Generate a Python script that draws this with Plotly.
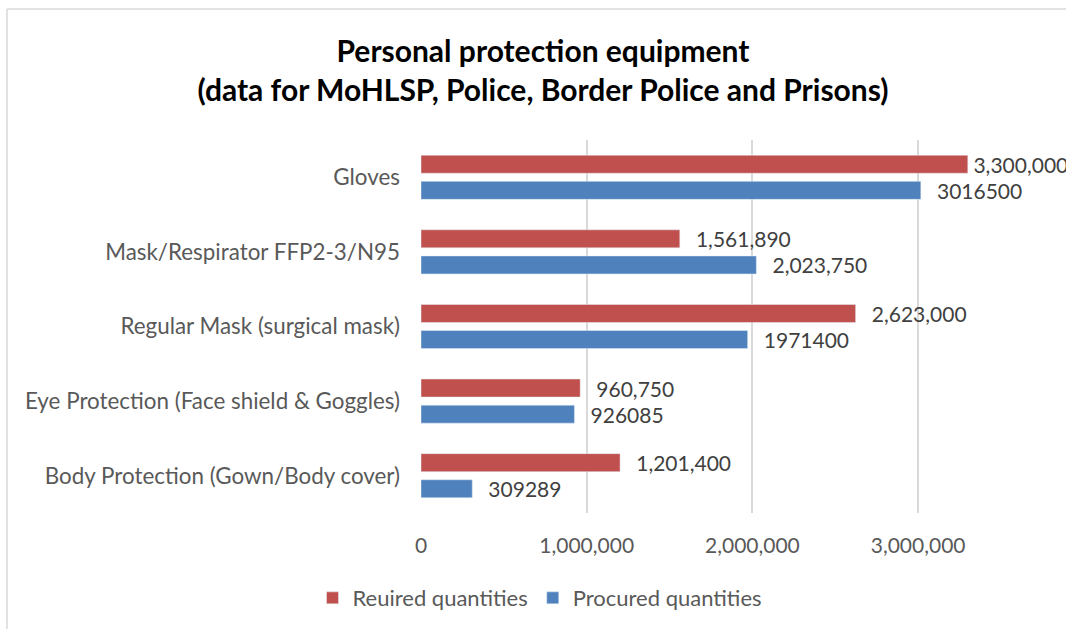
import plotly.graph_objects as go

# categories top to bottom
categorias = [
    'Gloves',
    'Mask/Respirator FFP2-3/N95',
    'Regular Mask (surgical mask)',
    'Eye Protection (Face shield & Goggles)',
    'Body Protection (Gown/Body cover)',
]
requeridas = [3300000, 1561890, 2623000, 960750, 1201400]
adquiridas = [3016500, 2023750, 1971400, 926085, 309289]
# labels as they appear in the original (mixed formatting)
rotulos_req = ['3,300,000', '1,561,890', '2,623,000', '960,750', '1,201,400']
rotulos_adq = ['3016500', '2,023,750', '1971400', '926085', '309289']

VERMELHO = '#C0504D'
AZUL = '#4F81BD'
FONTE = 'Lato, Open Sans, sans-serif'
ESPACO = '\u2002\u2009'  # afasta o rótulo da ponta da barra
# o rótulo de Gloves (vermelho) fica mais perto da barra no original
texto_req = [('\u2009' if i == 0 else ESPACO) + t for i, t in enumerate(rotulos_req)]
texto_adq = [ESPACO + t for t in rotulos_adq]

# a figura é mais larga que a janela: o gráfico original está cortado à direita
LARGURA = 1090
ESQ = 421
LARG_PLOT = LARGURA - ESQ
PX_POR_MILHAO = 165.7

fig = go.Figure()
fig.add_trace(go.Bar(
    y=categorias, x=requeridas, orientation='h',
    name='Reuired quantities', marker_color=VERMELHO,
    text=texto_req, textposition='outside',
    textfont=dict(size=21, color='#404040', family=FONTE),
    cliponaxis=False, constraintext='none',
))
fig.add_trace(go.Bar(
    y=categorias, x=adquiridas, orientation='h',
    name='Procured quantities', marker_color=AZUL,
    text=texto_adq, textposition='outside',
    textfont=dict(size=21, color='#404040', family=FONTE),
    cliponaxis=False, constraintext='none',
))

fig.update_layout(
    width=LARGURA, height=629,
    margin=dict(l=ESQ, r=0, t=140, b=116, autoexpand=False),
    paper_bgcolor='white', plot_bgcolor='white',
    font=dict(family=FONTE, size=21, color='#595959'),
    barmode='group', bargap=0.30, bargroupgap=0.31,
    title=dict(
        text='<b>Personal protection equipment<br>(data for MoHLSP, Police, Border Police and Prisons)</b>',
        x=543 / LARGURA, xanchor='center', xref='container',
        y=1 - 62 / 629, yanchor='middle', yref='container',
        font=dict(size=30, color='black', family=FONTE),
    ),
    legend=dict(
        orientation='h', x=(540 - ESQ) / LARG_PLOT, xanchor='center',
        y=-0.228, yanchor='middle',
        font=dict(size=22, color='#595959'),
        traceorder='normal',
    ),
    showlegend=True,
)
fig.update_xaxes(
    range=[0, LARG_PLOT / PX_POR_MILHAO * 1e6],
    tickvals=[0, 1000000, 2000000, 3000000],
    tickformat=',d', showgrid=True, gridcolor='#D9D9D9', gridwidth=1.5,
    zeroline=False, showline=False, ticks='', ticklabelstandoff=18,
    automargin=False, tickfont=dict(size=21),
)
fig.update_yaxes(
    autorange='reversed', showgrid=False, showline=False, ticks='',
    ticklabelstandoff=20, automargin=False, tickfont=dict(size=22.4),
)
# moldura do gráfico (só topo e esquerda aparecem no recorte)
x_borda = (7 - ESQ) / LARG_PLOT
y_borda = (513 - 9) / 373
fig.add_shape(type='line', xref='paper', yref='paper',
              x0=x_borda, x1=1.0, y0=y_borda, y1=y_borda,
              line=dict(color='#D9D9D9', width=1.5), layer='below')
fig.add_shape(type='line', xref='paper', yref='paper',
              x0=x_borda, x1=x_borda, y0=-116 / 373, y1=y_borda,
              line=dict(color='#D9D9D9', width=1.5), layer='below')

fig.write_html(
    'out.html',
    config={'displayModeBar': False},
    post_script=(
        "document.body.style.margin='0';"
        "document.body.style.overflow='hidden';"
        "document.documentElement.style.overflow='hidden';"
    ),
)
